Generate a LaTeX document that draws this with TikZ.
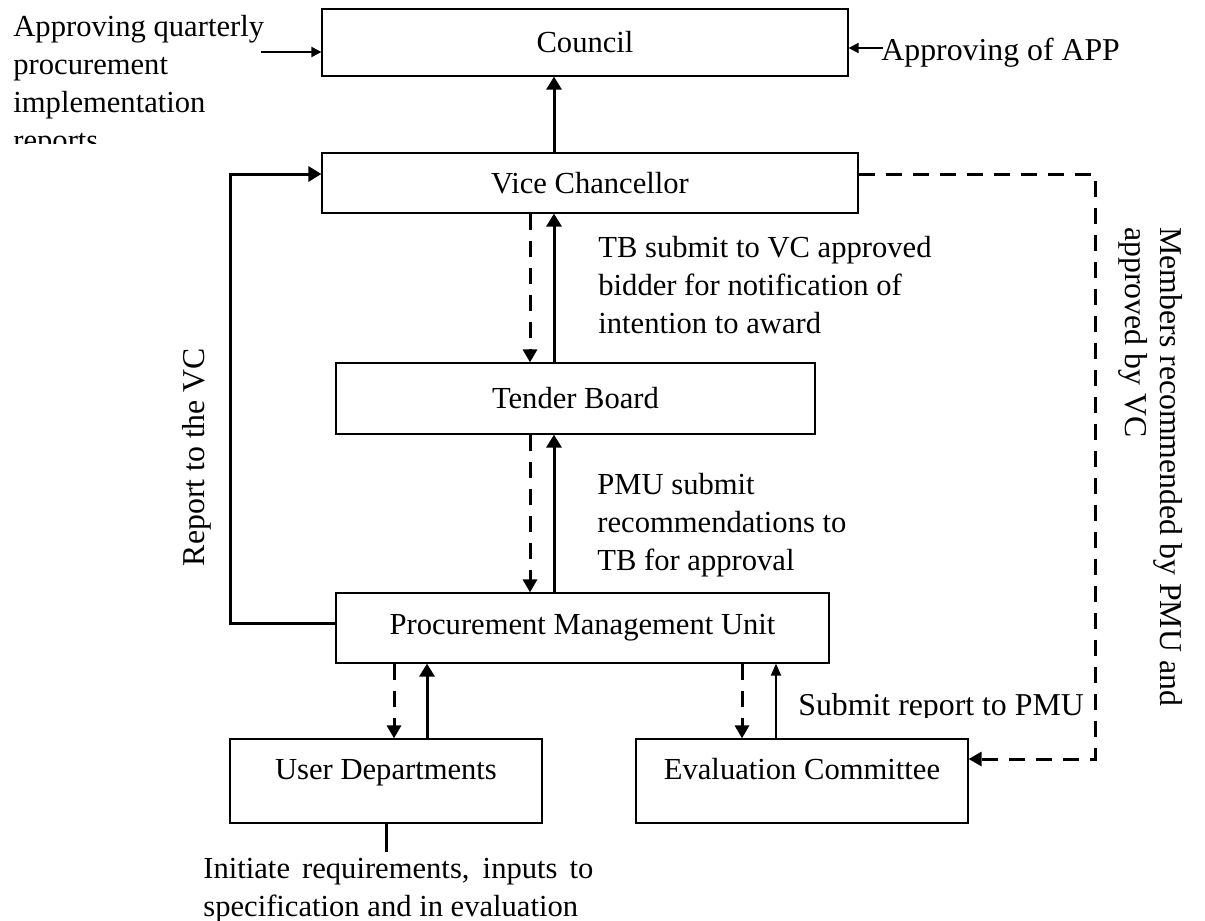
\documentclass[tikz,border=0pt]{standalone}
\usepackage{fontspec}
\setmainfont{Liberation Serif}
\usetikzlibrary{arrows.meta}

\begin{document}
\begin{tikzpicture}[
  x=0.5pt, y=-0.5pt,
  every node/.style={font=\fontsize{15.3}{19}\selectfont, inner sep=0pt},
  bignote/.style={font=\fontsize{15.9}{17.5}\selectfont},
  unit/.style={draw, line width=0.6pt, align=center},
  lowunit/.style={unit, text height=11pt, text depth=13pt},
  solidup/.style={line width=1.5pt, -{Triangle[length=6.5pt,width=7.5pt]}},
  thinup/.style={line width=1pt, -{Triangle[length=6pt,width=5pt]}},
  dashdown/.style={line width=1.5pt, dash pattern=on 8pt off 5.5pt, -{Triangle[length=6.5pt,width=7pt]}},
  side/.style={line width=1pt, -{Triangle[length=5pt,width=5pt]}},
]
\useasboundingbox (0,0) rectangle (1205,921);

% Boxes (positions in pixels of the page)
\node[unit, minimum width=263pt, minimum height=33.5pt] (council) at (585,42.5) {Council};
\node[unit, minimum width=268pt, minimum height=30pt] (vc) at (590,183) {Vice Chancellor};
\node[unit, minimum width=239.5pt, minimum height=35.5pt] (tb) at (575.5,398.5) {Tender Board};
\node[unit, minimum width=246.5pt, minimum height=35pt] (pmu) at (582.5,628) {Procurement Management Unit};
\node[lowunit, minimum width=156pt, minimum height=42pt] (ud) at (386,781) {User Departments};
\node[lowunit, minimum width=166pt, minimum height=42pt] (ec) at (802,781) {Evaluation Committee};

% Inputs to the Council
\begin{scope}
  \clip (0,0) rectangle (320,143);
  \node[anchor=north west, align=left] (qrep) at (13,14.5) {Approving quarterly\\procurement\\implementation\\reports};
\end{scope}
\coordinate (qrepout) at (261,52);
\draw[side] (qrepout) -- (qrepout -| council.west);

\node[bignote, anchor=base west] (app) at (881,61) {Approving of APP};
\coordinate (appout) at (883,48);
\draw[side] (appout) -- (appout -| council.east);

% VC up to Council
\coordinate (cx) at (554,0);
\draw[solidup] (vc.north -| cx) -- (council.south -| cx);

% Paired links: dashed down, solid up
\foreach \ubox/\lbox/\dx/\ux in {vc/tb/530/554, tb/pmu/530/554, pmu/ud/394/427} {
  \coordinate (dn) at (\dx,0);
  \coordinate (upx) at (\ux,0);
  \draw[dashdown] (\ubox.south -| dn) -- (\lbox.north -| dn);
  \draw[solidup] (\lbox.north -| upx) -- (\ubox.south -| upx);
}
\coordinate (dn) at (742,0);
\coordinate (upx) at (776,0);
\draw[dashdown] (pmu.south -| dn) -- (ec.north -| dn);
\draw[thinup] (ec.north -| upx) -- (pmu.south -| upx);

% Link labels
\node[anchor=north west, align=left] (tbtxt) at (598,236) {TB submit to VC approved\\bidder for notification of\\intention to award};
\node[anchor=north west, align=left] (pmutxt) at (597,473) {PMU submit\\recommendations to\\TB for approval};
\begin{scope}
  \clip (780,660) rectangle (1090,717);
  \node[bignote, anchor=base west] (subtxt) at (798,715) {Submit report to PMU};
\end{scope}

% Report to the VC
\coordinate (repx) at (230,0);
\coordinate (pmuout) at ([yshift=2.5pt]pmu.west);
\coordinate (vcin) at ([yshift=4.5pt]vc.west);
\draw[solidup] (pmuout) -- (pmuout -| repx) |- (vcin);
\node[bignote, rotate=90] (reptxt) at (197,457) {Report to the VC};

% Committee members
\coordinate (memx) at (1095,0);
\coordinate (vcout) at ([yshift=4.5pt]vc.east);
\coordinate (ecin) at ([yshift=11pt]ec.east);
\draw[dashdown] (vcout) -- (vcout -| memx) |- (ecin);
\node[bignote, rotate=-90, anchor=north west, align=left] (memtxt) at (1183,227) {Members recommended by PMU and\\approved by VC};

% User departments role
\node[anchor=north west, text width=195pt, align=justify] (ini) at (203,858) {Initiate requirements, inputs to specification and in evaluation};
\draw[line width=1.5pt] (ud.south) -- ([yshift=3pt]ud.south |- ini.north);

\end{tikzpicture}
\end{document}
